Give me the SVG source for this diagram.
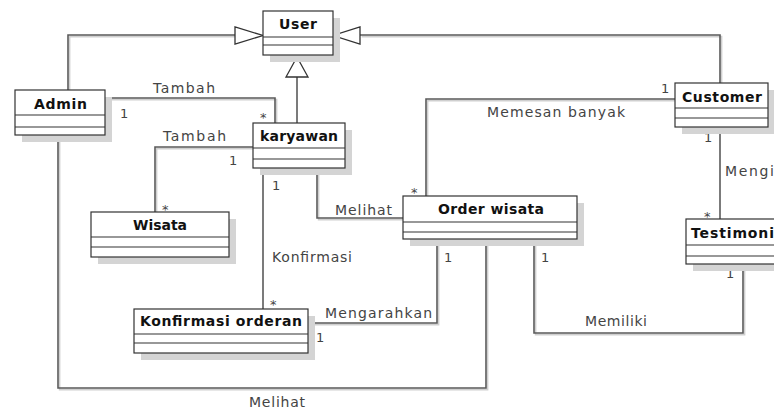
<svg xmlns="http://www.w3.org/2000/svg" width="774" height="410" viewBox="0 0 774 410">
<style>
.sh{fill:#d4d4d4}
.bx{fill:#fff;stroke:#333;stroke-width:1.2}
.dv{stroke:#333;stroke-width:1.2}
.nm{font-family:"DejaVu Sans","Liberation Sans",sans-serif;font-size:14px;font-weight:bold;fill:#111}
.lb{font-family:"DejaVu Sans","Liberation Sans",sans-serif;font-size:14px;fill:#444}
.ml{font-family:"DejaVu Sans","Liberation Sans",sans-serif;font-size:13px;fill:#444}
.ln{fill:none;stroke:#5a5a5a;stroke-width:1.6}
.lns{fill:none;stroke:#cfcfcf;stroke-width:1.6}
.tri{fill:#fff;stroke:#333;stroke-width:1.3}
</style>
<rect width="774" height="410" fill="#fff"/>
<g id="connectors">
  <g transform="translate(1.6,1.6)">
    <path class="lns" d="M68,90 V35 H235"/>
    <path class="lns" d="M720,83 V35 H360"/>
    <path class="lns" d="M105,98 H275 V123"/>
    <path class="lns" d="M253,147 H155 V212"/>
    <path class="lns" d="M317,168 V218 H403"/>
    <path class="lns" d="M675,99 H426 V196"/>
    <path class="lns" d="M743,264 V333 H534 V239"/>
    <path class="lns" d="M437,239 V323 H308"/>
    <path class="lns" d="M58,135 V388 H486 V239"/>
  </g>
  <path class="ln" d="M68,90 V35 H235"/>
  <path class="ln" d="M720,83 V35 H360"/>
  <path class="ln" d="M297,123 V77"/>
  <path class="ln" d="M105,98 H275 V123"/>
  <path class="ln" d="M253,147 H155 V212"/>
  <path class="ln" d="M263,168 V309"/>
  <path class="ln" d="M317,168 V218 H403"/>
  <path class="ln" d="M675,99 H426 V196"/>
  <path class="ln" d="M720,127 V219"/>
  <path class="ln" d="M743,264 V333 H534 V239"/>
  <path class="ln" d="M437,239 V323 H308"/>
  <path class="ln" d="M58,135 V388 H486 V239"/>
  <polygon class="tri" points="235,27 235,44 263,35.5"/>
  <polygon class="tri" points="360,27 360,44 333,35.5"/>
  <polygon class="tri" points="297,57 286,77 308,77"/>
  <text class="lb" x="153" y="93" textLength="62">Tambah</text>
  <text class="ml" x="120" y="118">1</text>
  <text class="ml" x="260" y="122">*</text>
  <text class="lb" x="163" y="141" textLength="63">Tambah</text>
  <text class="ml" x="229" y="165">1</text>
  <text class="ml" x="162" y="214">*</text>
  <text class="ml" x="272" y="190">1</text>
  <text class="lb" x="335" y="215" textLength="57">Melihat</text>
  <text class="lb" x="272" y="262" textLength="80">Konfirmasi</text>
  <text class="ml" x="270" y="309">*</text>
  <text class="lb" x="325" y="318" textLength="107">Mengarahkan</text>
  <text class="ml" x="316" y="342">1</text>
  <text class="lb" x="249" y="407" textLength="56">Melihat</text>
  <text class="lb" x="487" y="117" textLength="138">Memesan banyak</text>
  <text class="ml" x="661" y="93">1</text>
  <text class="ml" x="411" y="197">*</text>
  <text class="ml" x="444" y="262">1</text>
  <text class="ml" x="541" y="262">1</text>
  <text class="ml" x="704" y="142">1</text>
  <text class="lb" x="725" y="176" textLength="49">Mengi</text>
  <text class="ml" x="704" y="221">*</text>
  <text class="ml" x="726" y="278">1</text>
  <text class="lb" x="585" y="326" textLength="62">Memiliki</text>
</g>
<g id="user">
  <rect class="sh" x="270" y="18" width="70" height="44"/>
  <rect class="bx" x="263" y="11" width="70" height="44"/>
  <line class="dv" x1="263" y1="37" x2="333" y2="37"/>
  <line class="dv" x1="263" y1="45" x2="333" y2="45"/>
  <text class="nm" x="279" y="29" textLength="38">User</text>
</g>
<g id="admin">
  <rect class="sh" x="22" y="97" width="90" height="45"/>
  <rect class="bx" x="15" y="90" width="90" height="45"/>
  <line class="dv" x1="15" y1="115" x2="105" y2="115"/>
  <line class="dv" x1="15" y1="127" x2="105" y2="127"/>
  <text class="nm" x="34" y="109" textLength="53">Admin</text>
</g>
<g id="karyawan">
  <rect class="sh" x="260" y="130" width="92" height="45"/>
  <rect class="bx" x="253" y="123" width="92" height="45"/>
  <line class="dv" x1="253" y1="148" x2="345" y2="148"/>
  <line class="dv" x1="253" y1="159" x2="345" y2="159"/>
  <text class="nm" x="260" y="141" textLength="78">karyawan</text>
</g>
<g id="wisata">
  <rect class="sh" x="98" y="219" width="138" height="45"/>
  <rect class="bx" x="91" y="212" width="138" height="45"/>
  <line class="dv" x1="91" y1="237" x2="229" y2="237"/>
  <line class="dv" x1="91" y1="247" x2="229" y2="247"/>
  <text class="nm" x="133" y="230" textLength="54">Wisata</text>
</g>
<g id="order-wisata">
  <rect class="sh" x="410" y="203" width="174" height="43"/>
  <rect class="bx" x="403" y="196" width="174" height="43"/>
  <line class="dv" x1="403" y1="222" x2="577" y2="222"/>
  <line class="dv" x1="403" y1="232" x2="577" y2="232"/>
  <text class="nm" x="438" y="214" textLength="106">Order wisata</text>
</g>
<g id="customer">
  <rect class="sh" x="682" y="90" width="93" height="44"/>
  <rect class="bx" x="675" y="83" width="93" height="44"/>
  <line class="dv" x1="675" y1="108" x2="768" y2="108"/>
  <line class="dv" x1="675" y1="118" x2="768" y2="118"/>
  <text class="nm" x="682" y="102" textLength="80">Customer</text>
</g>
<g id="testimoni">
  <rect class="sh" x="693" y="226" width="100" height="45"/>
  <rect class="bx" x="686" y="219" width="100" height="45"/>
  <line class="dv" x1="686" y1="245" x2="786" y2="245"/>
  <line class="dv" x1="686" y1="256" x2="786" y2="256"/>
  <text class="nm" x="691" y="238" textLength="83">Testimoni</text>
</g>
<g id="konfirmasi-orderan">
  <rect class="sh" x="141" y="316" width="174" height="44"/>
  <rect class="bx" x="134" y="309" width="174" height="44"/>
  <line class="dv" x1="134" y1="334" x2="308" y2="334"/>
  <line class="dv" x1="134" y1="343" x2="308" y2="343"/>
  <text class="nm" x="140" y="326" textLength="162">Konfirmasi orderan</text>
</g>
</svg>
